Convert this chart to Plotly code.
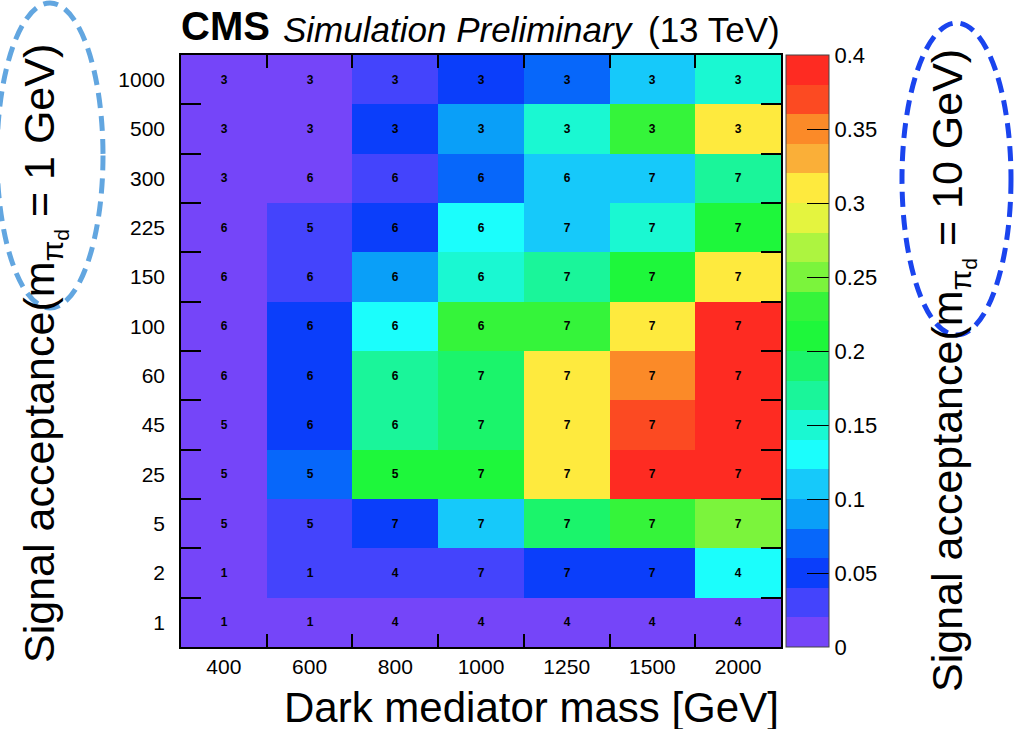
import plotly.graph_objects as go

# Axis categories
mediator_mass = ["400", "600", "800", "1000", "1250", "1500", "2000"]
ctau_labels = ["1000", "500", "300", "225", "150", "100", "60", "45", "25", "5", "2", "1"]  # top to bottom

# Signal acceptance per cell (rows follow ctau_labels, top to bottom)
acceptance = [
    [0.01, 0.01, 0.03, 0.05, 0.07, 0.11, 0.15],
    [0.01, 0.01, 0.05, 0.09, 0.15, 0.23, 0.31],
    [0.01, 0.01, 0.03, 0.07, 0.11, 0.11, 0.17],
    [0.01, 0.03, 0.05, 0.13, 0.11, 0.15, 0.21],
    [0.01, 0.03, 0.09, 0.15, 0.17, 0.21, 0.31],
    [0.01, 0.05, 0.13, 0.23, 0.23, 0.31, 0.39],
    [0.01, 0.05, 0.17, 0.19, 0.31, 0.35, 0.39],
    [0.01, 0.05, 0.17, 0.19, 0.31, 0.37, 0.39],
    [0.01, 0.07, 0.21, 0.21, 0.31, 0.39, 0.39],
    [0.01, 0.03, 0.05, 0.11, 0.19, 0.23, 0.25],
    [0.01, 0.03, 0.03, 0.03, 0.05, 0.05, 0.13],
    [0.01, 0.01, 0.01, 0.01, 0.01, 0.01, 0.01],
]

# Integer label printed in each cell
cell_labels = [
    [3, 3, 3, 3, 3, 3, 3],
    [3, 3, 3, 3, 3, 3, 3],
    [3, 6, 6, 6, 6, 7, 7],
    [6, 5, 6, 6, 7, 7, 7],
    [6, 6, 6, 6, 7, 7, 7],
    [6, 6, 6, 6, 7, 7, 7],
    [6, 6, 6, 7, 7, 7, 7],
    [5, 6, 6, 7, 7, 7, 7],
    [5, 5, 5, 7, 7, 7, 7],
    [5, 5, 7, 7, 7, 7, 7],
    [1, 1, 4, 7, 7, 7, 4],
    [1, 1, 4, 4, 4, 4, 4],
]

colorbar_ticks = [0, 0.05, 0.1, 0.15, 0.2, 0.25, 0.3, 0.35, 0.4]

# 20-step rainbow palette, 0 -> 0.4
palette = ["#7545F9", "#4444FC", "#0B3EFA", "#0767FA", "#0A9FF8",
           "#16C9FA", "#1BFEFC", "#1AF8D2", "#1AF59A", "#1BF46B",
           "#1EF73B", "#35F43A", "#7BF43C", "#ADF440", "#E4F43F",
           "#FEEA3E", "#FAAF38", "#FB8A28", "#FC4A22", "#FE2B22"]
n = len(palette)
colorscale = []
for i, c in enumerate(palette):
    colorscale.append([i / n, c])
    colorscale.append([(i + 1) / n, c])

FONT = "Liberation Sans"
W_FIG, H_FIG = 1019, 729
L, R, T, B = 181, 781, 55, 647


def px_x(px):
    return (px - L) / (R - L)


def px_y(py):
    return (B - py) / (B - T)


fig = go.Figure(go.Heatmap(
    x=mediator_mass,
    y=ctau_labels,
    z=acceptance,
    text=cell_labels,
    texttemplate="<b>%{text}</b>",
    textfont=dict(family=FONT, size=12, color="black"),
    colorscale=colorscale,
    zmin=0, zmax=0.4,
    colorbar=dict(
        x=px_x(786), xanchor="left", xpad=0,
        y=0.5, yanchor="middle", ypad=0,
        len=1, lenmode="fraction",
        thickness=43, thicknessmode="pixels",
        outlinewidth=1, outlinecolor="#444",
        tickvals=colorbar_ticks,
        ticktext=[f"{v:g}" for v in colorbar_ticks],
        ticks="inside", ticklen=22, tickcolor="black", tickwidth=1,
        tickfont=dict(family=FONT, size=22, color="black"),
    ),
))

axis_common = dict(
    type="category", showgrid=False, zeroline=False,
    showline=True, linecolor="black", linewidth=1.5, mirror="ticks",
    ticks="inside", tickson="boundaries", tickcolor="black", tickwidth=1.5,
    tickfont=dict(family=FONT, size=21, color="black"),
)

fig.update_xaxes(**axis_common, ticklen=13, range=[-0.5, 6.5])
fig.update_yaxes(**axis_common, ticklen=20, autorange="reversed",
                 ticklabelstandoff=10)

annotations = [
    dict(text="<b>CMS</b>", x=px_x(179), y=px_y(26), xanchor="left", yanchor="middle",
         font=dict(family=FONT, size=40, color="black")),
    dict(text="<i>Simulation Preliminary</i>", x=px_x(281), y=px_y(29), xanchor="left",
         yanchor="middle", font=dict(family=FONT, size=35, color="black")),
    dict(text="(13 TeV)", x=px_x(782), y=px_y(29), xanchor="right", yanchor="middle",
         font=dict(family=FONT, size=35, color="black")),
    dict(text="Dark mediator mass [GeV]", x=px_x(781), y=px_y(707), xanchor="right",
         yanchor="middle", font=dict(family=FONT, size=42, color="black")),
    dict(text="Signal acceptance(m<sub>π<sub>d</sub></sub> = 1 GeV)", x=px_x(44), y=px_y(354),
         xanchor="center", yanchor="middle", textangle=-90,
         font=dict(family=FONT, size=43, color="black")),
    dict(text="Signal acceptance(m<sub>π<sub>d</sub></sub> = 10 GeV)", x=px_x(952), y=px_y(371),
         xanchor="center", yanchor="middle", textangle=-90,
         font=dict(family=FONT, size=43, color="black")),
]
for a in annotations:
    a.update(xref="paper", yref="paper", showarrow=False)

shapes = [
    dict(type="circle", xref="paper", yref="paper",
         x0=px_x(-3), x1=px_x(103), y0=px_y(308), y1=px_y(3),
         line=dict(color="#62A6E0", width=5, dash="15px,8px")),
    dict(type="circle", xref="paper", yref="paper",
         x0=px_x(902), x1=px_x(1011), y0=px_y(335), y1=px_y(23),
         line=dict(color="#1A44EE", width=5, dash="15px,8px")),
]

fig.update_layout(
    width=W_FIG, height=H_FIG, autosize=False,
    margin=dict(l=L, r=W_FIG - R, t=T, b=H_FIG - B),
    paper_bgcolor="white", plot_bgcolor="white",
    annotations=annotations, shapes=shapes,
    font=dict(family=FONT, color="black"),
)

fig.write_html("out.html")
